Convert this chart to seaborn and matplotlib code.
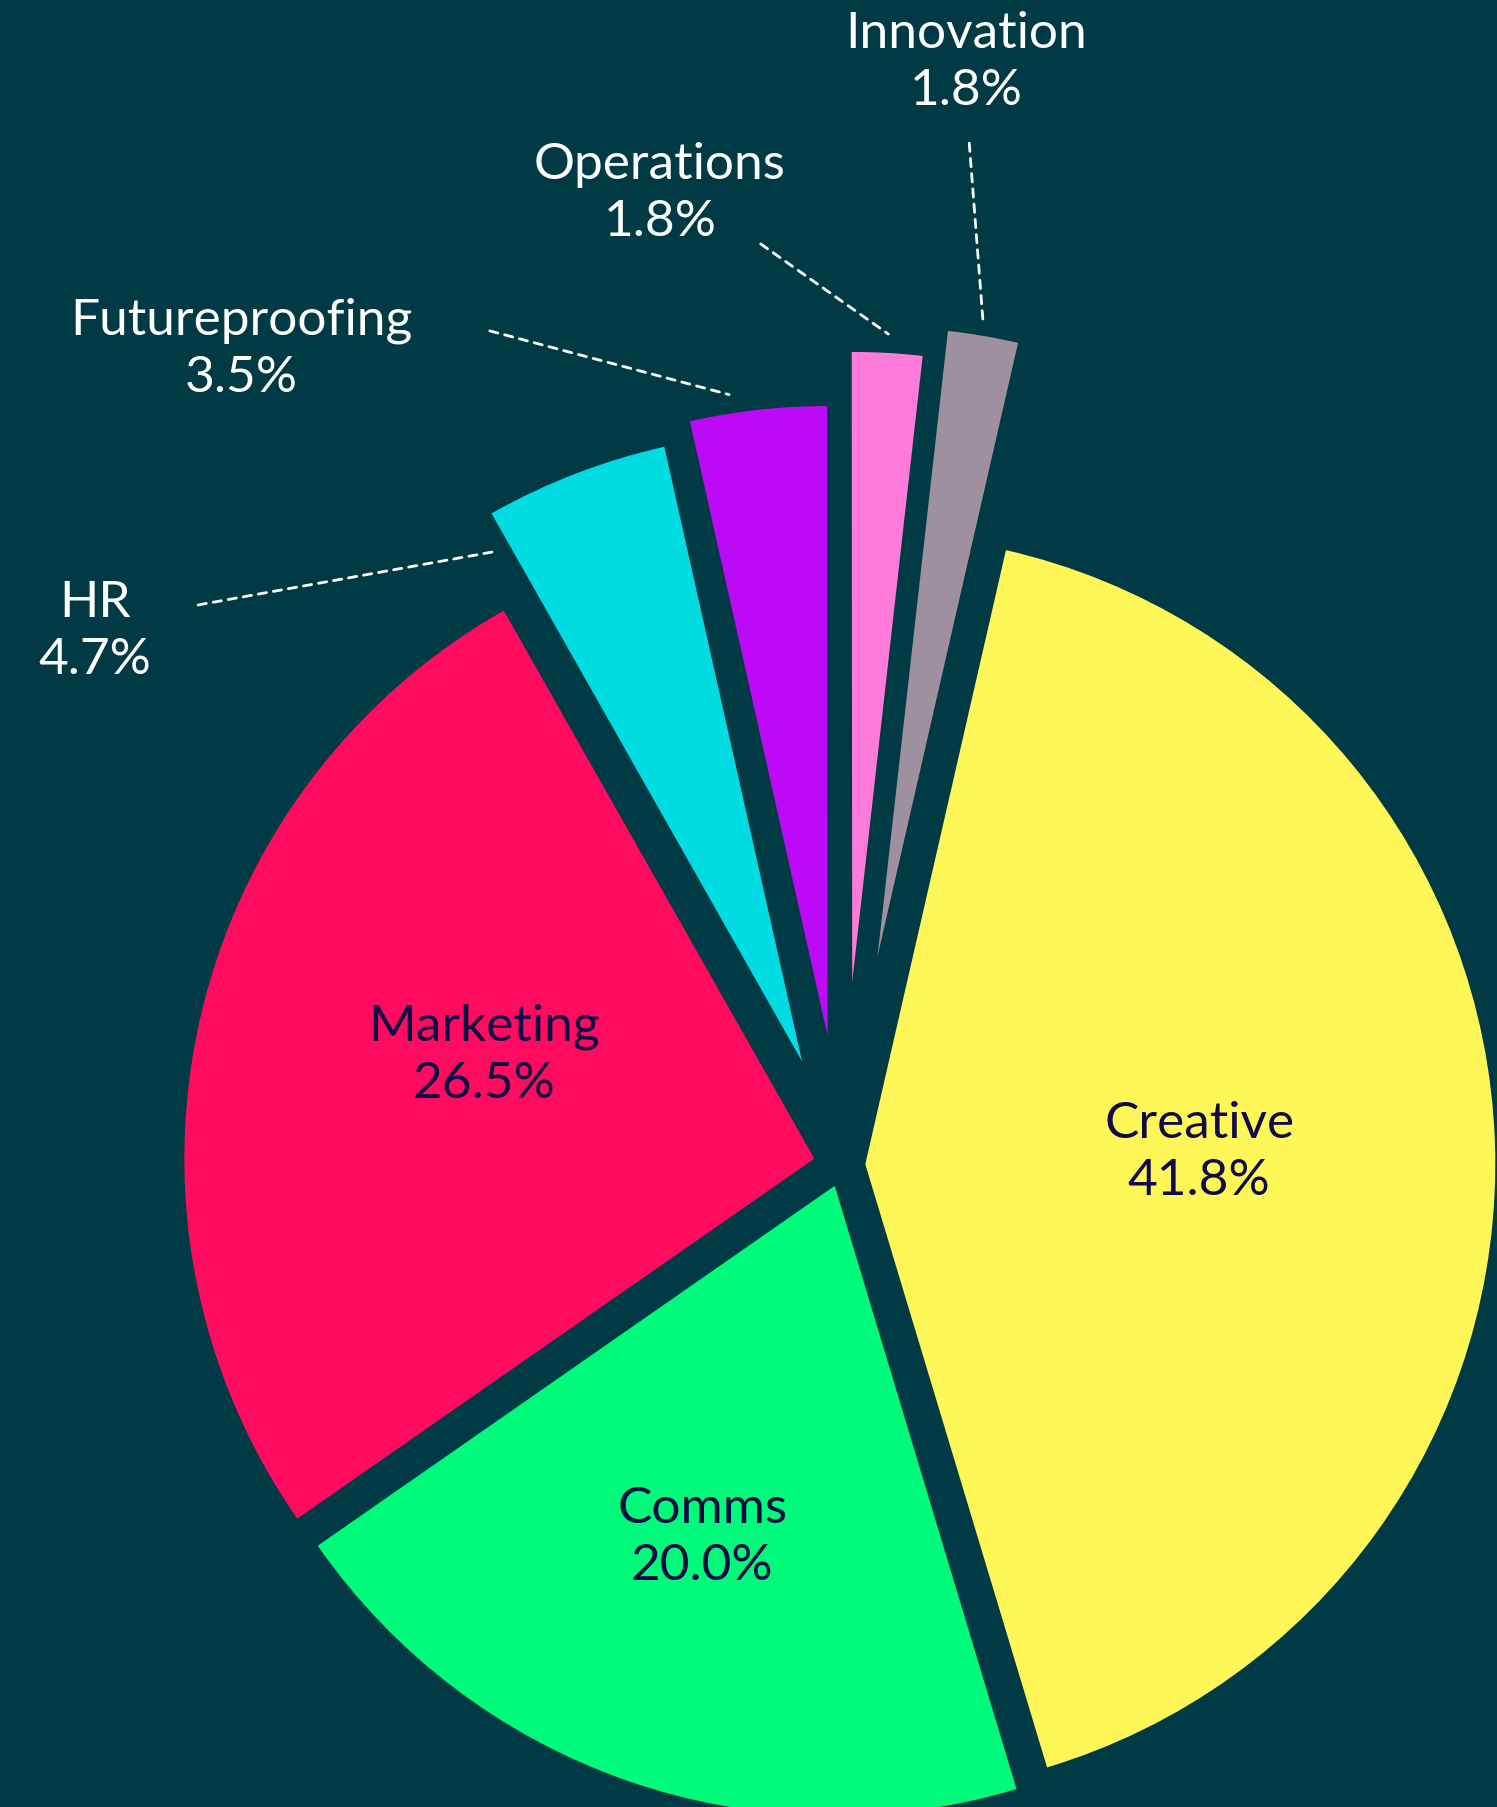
import numpy as np
import matplotlib
matplotlib.use("Agg")
import matplotlib.pyplot as plt
import seaborn as sns

# data
teams = ["Creative", "Comms", "Marketing", "HR", "Futureproofing", "Operations", "Innovation"]
shares = [41.8, 20.0, 26.5, 4.7, 3.5, 1.8, 1.8]
colors = ["#FFF758", "#00FA7B", "#FF0B60", "#00DCE2", "#BC0AF6", "#FF7BD9", "#9E909F"]

# layout
explode = [0.037, 0.035, 0.045, 0.176, 0.206, 0.291, 0.335]
bg = "#003A45"
inner_txt = "#0E0C45"
# label centres (pie radius = 1)
label_xy = {
    "Creative": (0.567, 0.021),
    "Comms": (-0.222, -0.589),
    "Marketing": (-0.568, 0.176),
    "HR": (-1.186, 0.849),
    "Futureproofing": (-0.954, 1.297),
    "Operations": (-0.289, 1.543),
    "Innovation": (0.197, 1.751),
}
outside = ["HR", "Futureproofing", "Operations", "Innovation"]
# where each leader line starts (next to its label) and where on the wedge it lands (angle frac, radius)
leader_start = {
    "HR": (-1.022, 0.889),
    "Futureproofing": (-0.559, 1.324),
    "Operations": (-0.129, 1.462),
    "Innovation": (0.202, 1.622),
}
leader_hit = {
    "HR": (1.09, 0.945),
    "Futureproofing": (0.69, 1.03),
    "Operations": (0.5, 1.03),
    "Innovation": (0.53, 1.02),
}

sns.set_theme(style="white")
plt.rcParams["font.family"] = ["Lato", "DejaVu Sans"]

fig = plt.figure(figsize=(14.97, 18.08), dpi=100, facecolor=bg)
ax = fig.add_axes([0, 0, 1, 1])
ax.set_facecolor(bg)

wedges, _ = ax.pie(shares, colors=sns.color_palette(colors), explode=explode,
                   startangle=77.1, counterclock=False, radius=1,
                   wedgeprops=dict(linewidth=0, antialiased=True))

ax.set_xlim(-842 / 630, (1497 - 842) / 630)
ax.set_ylim(-(1808 - 1166) / 630, 1166 / 630)
ax.set_aspect("equal")
ax.axis("off")

for name, val, w in zip(teams, shares, wedges):
    x, y = label_xy[name]
    txt = "{}\n{:.1f}%".format(name, val)
    if name in outside:
        ax.text(x, y, txt, ha="center", va="center", fontsize=37, color="white",
                linespacing=1.3)
        frac, rr = leader_hit[name]
        t = np.deg2rad(w.theta1 + frac * (w.theta2 - w.theta1))
        cx, cy = w.center
        end = (cx + rr * w.r * np.cos(t), cy + rr * w.r * np.sin(t))
        ax.annotate("", xy=end, xytext=leader_start[name],
                    arrowprops=dict(arrowstyle="-", color="white", lw=2,
                                    linestyle=(0, (3, 2.5)), shrinkA=0, shrinkB=0))
    else:
        ax.text(x, y, txt, ha="center", va="center", fontsize=37, color=inner_txt,
                linespacing=1.3)

fig.savefig("out.png", dpi=100, facecolor=bg)
